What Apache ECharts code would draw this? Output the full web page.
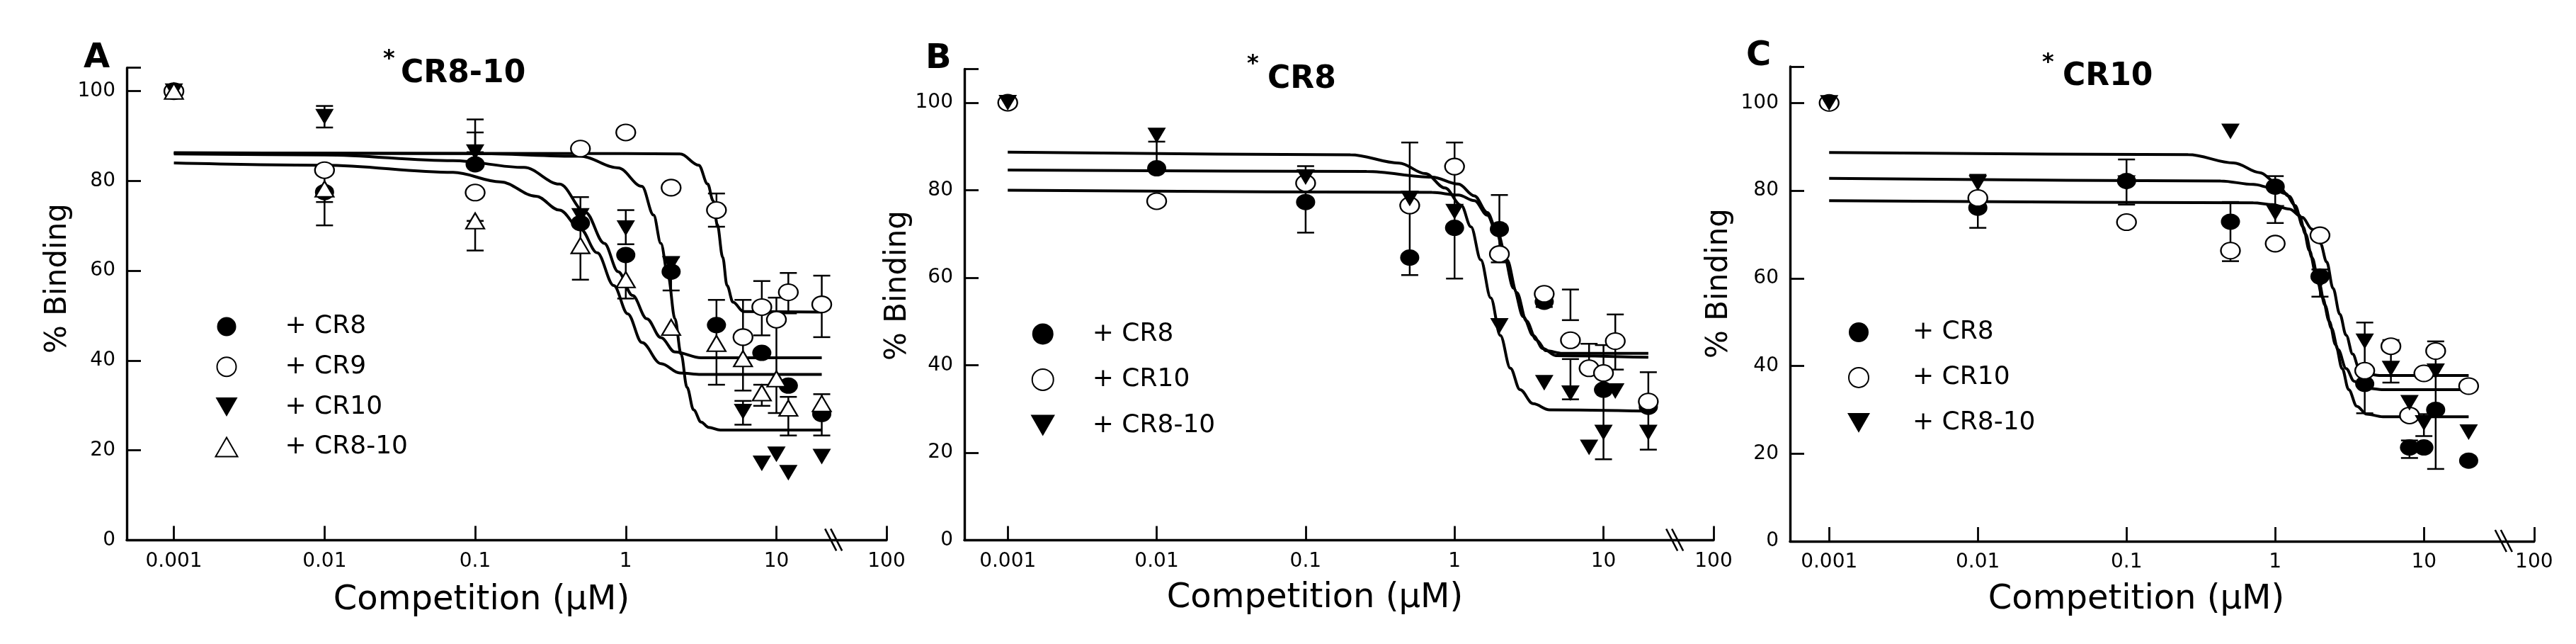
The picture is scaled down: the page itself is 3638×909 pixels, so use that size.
<!DOCTYPE html>
<html>
<head>
<meta charset="utf-8">
<script src="https://cdn.jsdelivr.net/npm/echarts@6/dist/echarts.min.js"></script>
<style>
  html, body { margin: 0; padding: 0; background: #fff; }
  #chart { width: 3638px; height: 909px; }
</style>
</head>
<body>
<div id="chart"></div>
<script>
// competitor concentrations (uM), shared by every point series
const conc = [0.001, 0.01, 0.1, 0.5, 1, 2, 4, 6, 8, 10, 12, 20]
const xTickLabels = ['0.001', '0.01', '0.1', '1', '10', '100']
const yTickLabels = [0, 20, 40, 60, 80, 100]

// ---- panel A : *CR8-10 ----
const A_cr8   = [100, 77.5, 83.7, 70.6, 63.5, 59.8, 47.9, null, 41.7, null, 34.4, 28.1]
const A_cr9   = [100, 82.4, 77.4, 87.2, 90.8, 78.5, 73.5, 45.2, 51.9, 49.1, 55.2, 52.5]
const A_cr10  = [100, 94.3, 86.4, 72.2, 69.5, 61.5, null, 28.6, 17.1, 19.1, 15.0, 18.6]
const A_cr810 = [100, 78.2, 71.1, 65.6, 58.0, 47.4, 43.8, 40.4, 32.8, 35.9, 29.4, 30.4]
// fitted curves, [uM, %]
const A_fitCR8   = [[0.001,86.0],[0.01,85.8],[0.0714,84.5],[0.211,83.0],[0.363,79.3],[0.54,73.0],[0.72,66.1],[0.89,59.8],[1.11,54.5],[1.38,49.3],[1.71,45.1],[2.12,41.9],[3.16,40.6],[20,40.6]]
const A_fitCR9   = [[0.001,86.2],[1,86.1],[2.3,86.0],[3.05,83.5],[3.5,79.3],[3.8,75.6],[4.05,70.3],[4.4,63.0],[4.7,56.7],[5.15,53.0],[6.05,50.9],[20,50.8]]
const A_fitCR10  = [[0.001,86.3],[0.1,86.1],[0.5,85.5],[0.89,82.9],[1.28,78.8],[1.53,72.4],[1.71,66.1],[1.91,58.8],[2.12,49.3],[2.33,41.4],[2.55,34.0],[2.82,29.0],[3.16,26.3],[3.55,25.1],[4.24,24.5],[20,24.5]]
const A_fitCR810 = [[0.001,84.0],[0.01,83.5],[0.0714,81.9],[0.147,79.8],[0.253,76.6],[0.363,73.5],[0.5,69.3],[0.646,64.0],[0.832,56.7],[1.03,50.4],[1.28,44.0],[1.71,39.3],[2.29,37.2],[3.16,36.9],[20,36.9]]
// error bars [uM, low, high]
const A_err = [[0.01,91.9,96.7],[0.01,75.3,82.4],[0.01,70.1,78.2],[0.1,86.4,93.7],[0.1,83.7,90.8],[0.1,64.5,71.1],[0.5,58.0,76.4],[1,65.9,73.5],[1,53.8,63.5],[2,55.6,63.0],[4,69.8,77.2],[4,34.6,53.5],[6,33.3,53.5],[6,25.7,31.0],[8,45.6,57.7],[8,29.9,34.6],[10,28.3,54.0],[12,50.5,59.5],[12,23.3,31.9],[20,45.2,58.9],[20,23.3,32.5]]

// ---- panel B : *CR8 ----
const B_cr8   = [100, 85.0, 77.3, 64.6, 71.4, 71.1, 54.5, null, null, 34.4, null, 30.5]
const B_cr10  = [100, 77.5, 81.6, 76.5, 85.4, 65.4, 56.3, 45.7, 39.3, 38.2, 45.5, 31.7]
const B_cr810 = [100, 92.5, 83.0, 78.1, 75.1, 49.0, 36.0, 33.6, 21.2, 24.6, 34.1, 24.6]
const B_fitCR8   = [[0.001,84.6],[0.257,84.3],[0.705,83.0],[1.06,81.4],[1.36,78.7],[1.66,74.9],[1.93,70.6],[2.25,64.1],[2.62,56.6],[3.04,50.1],[3.54,45.8],[4.12,43.3],[5.3,42.7],[20,42.7]]
const B_fitCR10  = [[0.001,80.0],[0.705,79.5],[1.06,78.9],[1.36,77.6],[1.66,74.3],[1.93,70.0],[2.14,65.2],[2.49,57.6],[2.89,51.1],[3.37,46.8],[3.92,43.8],[4.79,42.2],[20,41.8]]
const B_fitCR810 = [[0.001,88.7],[0.2,88.1],[0.425,86.2],[0.637,83.8],[0.863,80.5],[1.11,76.5],[1.29,71.6],[1.5,64.1],[1.75,55.4],[2.03,46.8],[2.37,39.3],[2.75,34.4],[3.37,31.2],[4.34,29.8],[20,29.5]]
const B_err = [[0.01,85.0,91.1],[0.1,70.3,85.5],[0.5,60.6,90.9],[1,59.8,90.9],[2,63.5,78.9],[4,53.3,56.3],[6,50.3,57.3],[6,32.2,41.4],[8,40.0,44.9],[10,18.5,44.6],[12,39.0,51.6],[20,20.7,38.4]]

// ---- panel C : *CR10 ----
const C_cr8   = [100, 76.1, 82.2, 72.9, 80.9, 60.4, 35.9, null, 21.4, 21.4, 30.0, 18.4]
const C_cr10  = [100, 78.3, 72.8, 66.3, 67.9, 69.8, 38.9, 44.5, 28.7, 38.3, 43.4, 35.4]
const C_cr810 = [100, 81.7, 81.7, 93.5, 74.9, 59.3, 45.6, 39.4, 31.6, 27.0, 38.8, 24.9]
const C_fitCR8   = [[0.001,82.8],[0.43,82.2],[0.713,81.4],[0.955,80.6],[1.175,79.3],[1.36,76.6],[1.54,71.7],[1.70,66.3],[1.88,60.9],[2.08,55.6],[2.31,50.2],[2.55,44.8],[2.82,39.4],[3.12,34.6],[3.54,30.8],[4.12,29.0],[5.3,28.4],[20,28.4]]
const C_fitCR10  = [[0.001,77.7],[0.713,77.2],[0.955,76.8],[1.24,75.8],[1.52,73.9],[1.77,71.2],[2.01,68.0],[2.22,63.7],[2.45,57.7],[2.72,51.8],[3.0,47.0],[3.32,42.7],[3.67,39.4],[4.12,38.1],[5.3,37.8],[20,37.8]]
const C_fitCR810 = [[0.001,88.7],[0.26,88.2],[0.526,86.3],[0.789,84.1],[1.01,81.9],[1.24,78.7],[1.45,74.4],[1.60,70.1],[1.77,64.7],[1.96,59.3],[2.16,53.9],[2.39,48.6],[2.65,43.7],[3.0,39.4],[3.4,36.5],[3.96,35.0],[5.37,34.6],[20,34.6]]
const C_err = [[0.01,71.5,83.6],[0.1,76.8,87.1],[0.5,63.9,77.4],[1,72.6,83.3],[2,55.8,62.0],[4,29.2,49.9],[6,36.2,45.9],[8,19.0,23.0],[10,24.0,29.0],[12,16.5,45.6]]

const FONT = '"DejaVu Sans"'

const markers = {
  fc: { symbol: 'circle', size: [27, 23], itemStyle: { color: '#000', opacity: 1 } },
  oc: { symbol: 'circle', size: [27, 23], itemStyle: { color: '#fff', borderColor: '#000', borderWidth: 2.2, opacity: 1 } },
  ft: { symbol: 'path://M0,0L10,0L5,8.7Z', size: [26, 22], itemStyle: { color: '#000', opacity: 1 } },
  ot: { symbol: 'path://M5,0L10,8.7L0,8.7Z', size: [26, 22], itemStyle: { color: '#fff', borderColor: '#000', borderWidth: 2.2, opacity: 1 } }
}

const panels = [
  {
    id: 'A', title: 'CR8-10',
    grid: { left: 179, top: 95.7, width: 1073, height: 666.6 },
    xMin: -3.313, xMax: 1.731, yMax: 105.2, brk: 1.384,
    points: [['+ CR8', A_cr8, 'fc'], ['+ CR9', A_cr9, 'oc'], ['+ CR10', A_cr10, 'ft'], ['+ CR8-10', A_cr810, 'ot']],
    fits: [A_fitCR8, A_fitCR9, A_fitCR10, A_fitCR810],
    err: A_err,
    legend: { left: 303.5, top: 443, w: 37, h: 27, gap: 20.7, pad: 59 },
    letterPos: [118, 83], titlePos: [566, 105], starPos: [541, 84],
    yNamePos: [82, 393], xNamePos: [680, 848]
  },
  {
    id: 'B', title: 'CR8',
    grid: { left: 1362, top: 97.4, width: 1058, height: 665.1 },
    xMin: -3.291, xMax: 1.739, yMax: 107.7, brk: 1.483,
    points: [['+ CR8', B_cr8, 'fc'], ['+ CR10', B_cr10, 'oc'], ['+ CR8-10', B_cr810, 'ft']],
    fits: [B_fitCR8, B_fitCR10, B_fitCR810],
    err: B_err,
    legend: { left: 1455.5, top: 453.4, w: 36, h: 30, gap: 28.5, pad: 47 },
    letterPos: [1307, 84], titlePos: [1790, 113], starPos: [1761, 91],
    yNamePos: [1268, 403], xNamePos: [1857, 845]
  },
  {
    id: 'C', title: 'CR10',
    grid: { left: 2528, top: 93.9, width: 1050.8, height: 670.1 },
    xMin: -3.263, xMax: 1.741, yMax: 108.3, brk: 1.541,
    points: [['+ CR8', C_cr8, 'fc'], ['+ CR10', C_cr10, 'oc'], ['+ CR8-10', C_cr810, 'ft']],
    fits: [C_fitCR8, C_fitCR10, C_fitCR810],
    err: C_err,
    legend: { left: 2609, top: 451, w: 32, h: 28, gap: 27.9, pad: 55 },
    letterPos: [2466, 80], titlePos: [2913, 109], starPos: [2884, 89],
    yNamePos: [2428, 400], xNamePos: [3017, 847]
  }
]

const lg = v => Math.log10(v)

const renderErr = (params, api) => {
  const a = api.coord([api.value(0), api.value(1)])
  const b = api.coord([api.value(0), api.value(2)])
  const st = { stroke: '#000', lineWidth: 2.5 }
  const w = 12
  return {
    type: 'group',
    children: [
      { type: 'line', shape: { x1: a[0], y1: a[1], x2: b[0], y2: b[1] }, style: st },
      { type: 'line', shape: { x1: a[0] - w, y1: a[1], x2: a[0] + w, y2: a[1] }, style: st },
      { type: 'line', shape: { x1: b[0] - w, y1: b[1], x2: b[0] + w, y2: b[1] }, style: st }
    ]
  }
}

const renderBreak = (params, api) => {
  const p = api.coord([api.value(0), api.value(1)])
  const st = { stroke: '#000', lineWidth: 2.6 }
  return {
    type: 'group',
    children: [
      { type: 'line', shape: { x1: p[0] - 13, y1: p[1] - 16, x2: p[0] + 3, y2: p[1] + 15 }, style: st },
      { type: 'line', shape: { x1: p[0] - 5, y1: p[1] - 16, x2: p[0] + 11, y2: p[1] + 15 }, style: st }
    ]
  }
}

const grids = [], xAxes = [], yAxes = [], series = [], legends = [], graphics = []

panels.forEach((p, i) => {
  grids.push(p.grid)

  const xTickPos = [-3, -2, -1, 0, 1, p.xMax]
  xAxes.push({
    gridIndex: i, type: 'value', min: p.xMin, max: p.xMax,
    axisLine: { onZero: false, lineStyle: { color: '#000', width: 3.4 } },
    axisTick: { inside: true, length: 20, customValues: xTickPos, lineStyle: { color: '#000', width: 2.8 } },
    axisLabel: {
      customValues: xTickPos, margin: 16, color: '#000', fontFamily: FONT, fontSize: 28,
      formatter: v => xTickLabels[xTickPos.findIndex(t => Math.abs(t - v) < 1e-6)]
    },
    splitLine: { show: false }
  })
  yAxes.push({
    gridIndex: i, type: 'value', min: 0, max: p.yMax,
    axisLine: { onZero: false, lineStyle: { color: '#000', width: 3.4 } },
    axisTick: { inside: true, length: 20, customValues: yTickLabels.concat([p.yMax]), lineStyle: { color: '#000', width: 2.8 } },
    axisLabel: { customValues: yTickLabels, margin: 16, color: '#000', fontFamily: FONT, fontSize: 28 },
    splitLine: { show: false }
  })

  p.fits.forEach((f, k) => {
    series.push({
      name: p.id + ' fit ' + k, type: 'line', xAxisIndex: i, yAxisIndex: i,
      data: f.map(d => [lg(d[0]), d[1]]),
      showSymbol: false, smooth: 0.35, smoothMonotone: 'x',
      lineStyle: { color: '#000', width: 4 }, z: 3, silent: true
    })
  })

  series.push({
    name: p.id + ' err', type: 'custom', xAxisIndex: i, yAxisIndex: i,
    data: p.err.map(d => [lg(d[0]), d[1], d[2]]),
    encode: { x: 0, y: [1, 2] }, renderItem: renderErr, z: 2, silent: true
  })

  series.push({
    name: p.id + ' break', type: 'custom', xAxisIndex: i, yAxisIndex: i,
    data: [[p.brk, 0]], renderItem: renderBreak, clip: false, z: 6, silent: true
  })

  const names = []
  p.points.forEach(([label, vals, mk]) => {
    const m = markers[mk]
    const name = p.id + '|' + label
    names.push(name)
    series.push({
      name, type: 'scatter', xAxisIndex: i, yAxisIndex: i,
      data: conc.map((c, j) => vals[j] == null ? null : [lg(c), vals[j]]).filter(Boolean),
      symbol: m.symbol, symbolSize: m.size, itemStyle: m.itemStyle, z: 5
    })
  })

  legends.push({
    data: names, orient: 'vertical', left: p.legend.left, top: p.legend.top,
    itemWidth: p.legend.w, itemHeight: p.legend.h, itemGap: p.legend.gap,
    padding: 0, selectedMode: false,
    formatter: n => n.split('|')[1],
    textStyle: { color: '#000', fontFamily: FONT, fontSize: 36, padding: [0, 0, 0, p.legend.pad] }
  })

  graphics.push(
    { type: 'text', x: p.letterPos[0], y: p.letterPos[1], style: { text: p.id, font: 'bold 48px ' + FONT, fill: '#000', align: 'left', verticalAlign: 'middle' } },
    { type: 'text', x: p.starPos[0], y: p.starPos[1], style: { text: '*', font: 'bold 32px ' + FONT, fill: '#000', align: 'left', verticalAlign: 'middle' } },
    { type: 'text', x: p.titlePos[0], y: p.titlePos[1], style: { text: p.title, font: 'bold 44px ' + FONT, fill: '#000', align: 'left', verticalAlign: 'middle' } },
    { type: 'text', x: p.yNamePos[0], y: p.yNamePos[1], rotation: Math.PI / 2, style: { text: '% Binding', font: '42px ' + FONT, fill: '#000', align: 'center', verticalAlign: 'middle' } },
    { type: 'text', x: p.xNamePos[0], y: p.xNamePos[1], style: { text: 'Competition (\u00b5M)', font: '48px ' + FONT, fill: '#000', align: 'center', verticalAlign: 'middle' } }
  )
})

const chart = echarts.init(document.getElementById('chart'), null, { renderer: 'canvas' })
chart.setOption({
  backgroundColor: '#fff',
  animation: false,
  grid: grids,
  xAxis: xAxes,
  yAxis: yAxes,
  legend: legends,
  graphic: graphics,
  series
})
</script>
</body>
</html>
